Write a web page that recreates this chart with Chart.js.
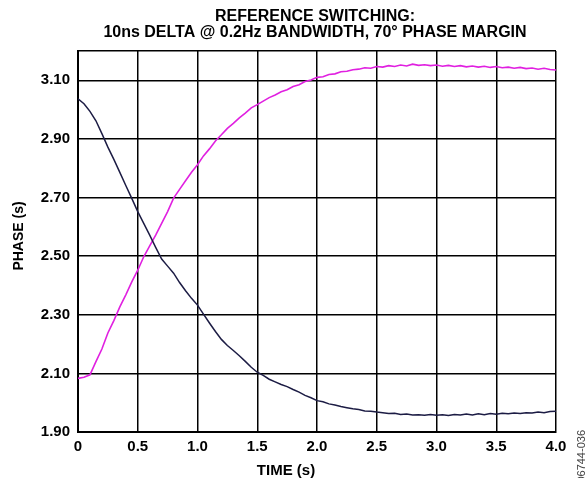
<!DOCTYPE html>
<html>
<head>
<meta charset="utf-8">
<script src="https://cdn.jsdelivr.net/npm/chart.js@4"></script>
<style>
html,body{margin:0;padding:0;background:#fff;}
#c{display:block;}
</style>
</head>
<body>
<canvas id="c" width="587" height="478"></canvas>
<script>
const titleLines = ["REFERENCE SWITCHING:", "10ns DELTA @ 0.2Hz BANDWIDTH, 70° PHASE MARGIN"];
const xTitle = "TIME (s)";
const yTitle = "PHASE (s)";
const figNote = "06744-036";

const yTickValues = [1.90, 2.10, 2.30, 2.50, 2.70, 2.90, 3.10];
const xTickValues = [0, 0.5, 1.0, 1.5, 2.0, 2.5, 3.0, 3.5, 4.0];

const times = [0.00,0.05,0.10,0.15,0.20,0.25,0.30,0.35,0.40,0.45,0.50,0.55,0.60,0.65,0.70,0.75,0.80,0.85,0.90,0.95,
1.00,1.05,1.10,1.15,1.20,1.25,1.30,1.35,1.40,1.45,1.50,1.55,1.60,1.65,1.70,1.75,1.80,1.85,1.90,1.95,
2.00,2.05,2.10,2.15,2.20,2.25,2.30,2.35,2.40,2.45,2.50,2.55,2.60,2.65,2.70,2.75,2.80,2.85,2.90,2.95,
3.00,3.05,3.10,3.15,3.20,3.25,3.30,3.35,3.40,3.45,3.50,3.55,3.60,3.65,3.70,3.75,3.80,3.85,3.90,3.95,4.00];

const risingPhase = [2.083,2.087,2.095,2.140,2.183,2.238,2.280,2.327,2.368,2.412,2.452,2.498,2.535,2.572,2.612,2.652,2.698,2.728,2.757,2.786,
2.812,2.842,2.866,2.893,2.914,2.936,2.953,2.972,2.988,3.006,3.017,3.029,3.041,3.050,3.061,3.068,3.079,3.085,3.096,3.101,
3.110,3.112,3.120,3.122,3.129,3.131,3.136,3.138,3.143,3.141,3.147,3.145,3.150,3.147,3.152,3.149,3.155,3.151,3.153,3.150,
3.152,3.148,3.151,3.147,3.150,3.146,3.149,3.145,3.148,3.144,3.147,3.143,3.145,3.141,3.144,3.140,3.142,3.138,3.141,3.137,3.135];

const fallingPhase = [3.037,3.020,2.994,2.962,2.918,2.872,2.830,2.786,2.741,2.697,2.652,2.612,2.572,2.530,2.490,2.466,2.442,2.410,2.382,2.356,
2.333,2.302,2.272,2.243,2.216,2.195,2.178,2.160,2.141,2.121,2.104,2.093,2.080,2.071,2.062,2.055,2.045,2.036,2.025,2.017,
2.007,2.003,1.996,1.992,1.987,1.983,1.979,1.977,1.972,1.971,1.968,1.966,1.963,1.964,1.960,1.961,1.958,1.959,1.957,1.960,
1.957,1.959,1.956,1.960,1.958,1.961,1.958,1.962,1.959,1.963,1.961,1.964,1.962,1.965,1.963,1.966,1.965,1.968,1.966,1.970,1.971];

const FONT = '"Liberation Sans", Arial, Helvetica, sans-serif';

const textPlugin = {
  id: 'textPlugin',
  afterDraw(chart) {
    const ctx = chart.ctx;
    ctx.save();
    ctx.fillStyle = '#000';
    ctx.font = 'bold 16px ' + FONT;
    ctx.textAlign = 'center';
    ctx.textBaseline = 'middle';
    ctx.fillText(titleLines[0], 315, 17);
    ctx.fillText(titleLines[1], 315, 33);
    ctx.font = 'bold 15px ' + FONT;
    ctx.fillText(xTitle, 286, 471);
    ctx.font = 'bold 14px ' + FONT;
    ctx.save();
    ctx.translate(19, 236);
    ctx.rotate(-Math.PI / 2);
    ctx.fillText(yTitle, 0, 0);
    ctx.restore();
    ctx.save();
    ctx.fillStyle = '#444';
    ctx.font = '11px ' + FONT;
    ctx.translate(582, 430);
    ctx.rotate(-Math.PI / 2);
    ctx.textAlign = 'right';
    ctx.fillText(figNote, 0, 0);
    ctx.restore();
    ctx.restore();
  }
};

new Chart(document.getElementById('c'), {
  type: 'line',
  data: {
    datasets: [
      {
        data: times.map((t, i) => ({x: t, y: fallingPhase[i]})),
        borderColor: '#1c1c44',
        borderWidth: 1.5,
        pointRadius: 0,
        tension: 0
      },
      {
        data: times.map((t, i) => ({x: t, y: risingPhase[i]})),
        borderColor: '#e020e0',
        borderWidth: 1.6,
        pointRadius: 0,
        tension: 0
      }
    ]
  },
  options: {
    responsive: false,
    animation: false,
    devicePixelRatio: 1,
    layout: {padding: {top: 51, right: 31, bottom: 0, left: 0}},
    plugins: {legend: {display: false}, title: {display: false}, tooltip: {enabled: false}},
    scales: {
      x: {
        type: 'linear',
        min: 0, max: 4,
        afterBuildTicks: s => { s.ticks = xTickValues.map(v => ({value: v})); },
        afterFit: s => { s.height = 46; },
        ticks: {
          color: '#000',
          font: {family: FONT, size: 15, weight: 'bold'},
          padding: 6,
          maxRotation: 0,
          autoSkip: false,
          callback: v => v === 0 ? '0' : Number(v).toFixed(1)
        },
        grid: {color: '#000', lineWidth: 1.5, drawTicks: false},
        border: {color: '#000', width: 2}
      },
      y: {
        type: 'linear',
        min: 1.9, max: 3.2,
        afterBuildTicks: s => { s.ticks = yTickValues.concat([3.2]).map(v => ({value: v})); },
        afterFit: s => { s.width = 78; },
        ticks: {
          color: '#000',
          font: {family: FONT, size: 15, weight: 'bold'},
          padding: 8,
          autoSkip: false,
          callback: v => (Math.abs(v - 3.2) < 1e-6 ? '' : Number(v).toFixed(2))
        },
        grid: {color: '#000', lineWidth: 1.5, drawTicks: false},
        border: {color: '#000', width: 2}
      }
    }
  },
  plugins: [textPlugin]
});
</script>
</body>
</html>
